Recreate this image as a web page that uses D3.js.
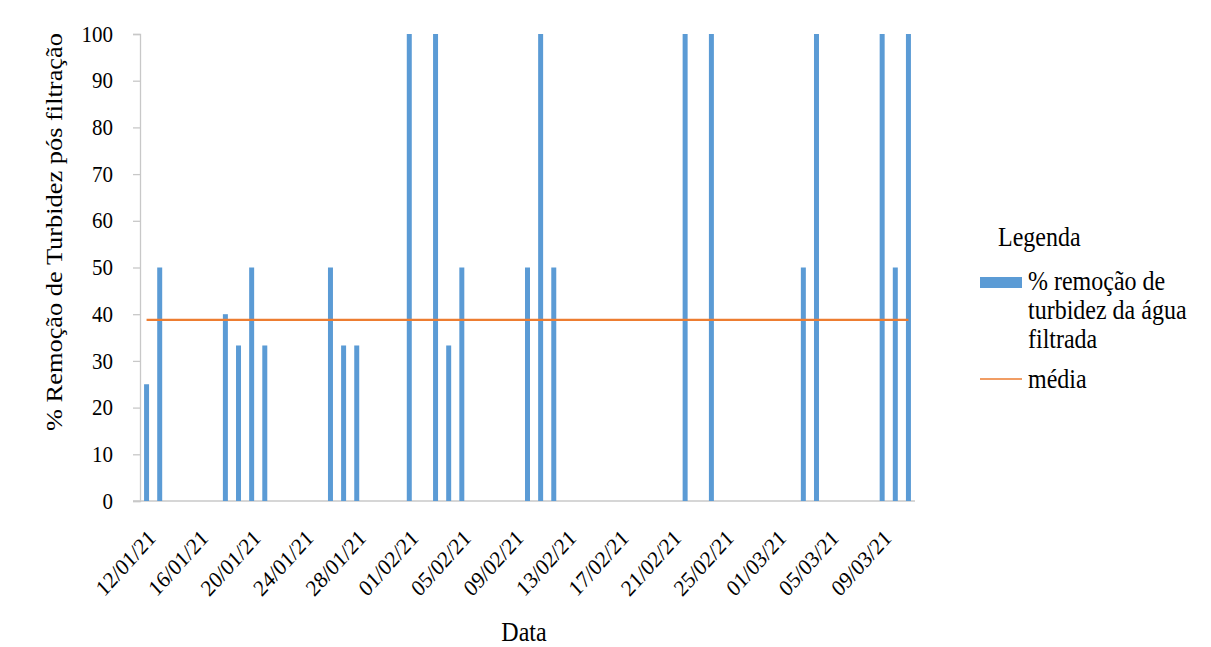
<!DOCTYPE html>
<html>
<head>
<meta charset="utf-8">
<script src="https://cdn.jsdelivr.net/npm/d3@7"></script>
<style>
  body { margin: 0; background: #ffffff; }
  text { font-family: "Liberation Serif", "Times New Roman", serif; fill: #000; }
</style>
</head>
<body>
<div id="chart"></div>
<script>
// dias com medição e % de remoção
const dias = ["12/01/21", "13/01/21", "18/01/21", "19/01/21", "20/01/21", "21/01/21",
  "26/01/21", "27/01/21", "28/01/21", "01/02/21", "03/02/21", "04/02/21", "05/02/21",
  "10/02/21", "11/02/21", "12/02/21", "22/02/21", "24/02/21", "03/03/21", "04/03/21",
  "09/03/21", "10/03/21", "11/03/21"];
const remocao = [25, 50, 40, 33.3, 50, 33.3,
  50, 33.3, 33.3, 100, 100, 33.3, 50,
  50, 100, 50, 100, 100, 50, 100,
  100, 50, 100];
const media = 38.8;
const primeiroDia = "12/01/21";
const ultimoDia = "11/03/21";
const tickLabels = ["12/01/21", "16/01/21", "20/01/21", "24/01/21", "28/01/21", "01/02/21",
  "05/02/21", "09/02/21", "13/02/21", "17/02/21", "21/02/21", "25/02/21", "01/03/21",
  "05/03/21", "09/03/21"];
const yTicks = [0, 10, 20, 30, 40, 50, 60, 70, 80, 90, 100];

let width = 1211;
let height = 647;
let plotLeft = 140, plotRight = 915, plotTop = 34, plotBottom = 501;
let stretch = 1.1; // o texto do original é um pouco alongado na vertical

let parse = d3.timeParse("%d/%m/%y");
let fmt = d3.timeFormat("%d/%m/%y");

let todosDias = d3.timeDay.range(parse(primeiroDia), d3.timeDay.offset(parse(ultimoDia), 1)).map(fmt);

let svg = d3.select("#chart").append("svg")
  .attr("width", width)
  .attr("height", height);

let x = d3.scaleBand()
  .domain(todosDias)
  .range([plotLeft, plotRight])
  .paddingInner(0.62)
  .paddingOuter(0.31);

let y = d3.scaleLinear()
  .domain([0, 100])
  .range([plotBottom, plotTop]);

function addText(parent, px, py, rot, size, anchor, txt) {
  return parent.append("text")
    .attr("transform", "translate(" + px + "," + py + ") scale(1," + stretch + ") rotate(" + rot + ")")
    .attr("text-anchor", anchor)
    .attr("font-size", size)
    .text(txt);
}

// eixo y
let yAxis = svg.append("g")
  .attr("transform", "translate(" + plotLeft + ",0)")
  .call(d3.axisLeft(y).tickValues(yTicks).tickSize(7).tickFormat(""));

yAxis.select(".domain").attr("stroke", "#c8c8c8").attr("stroke-width", 1.3);
yAxis.selectAll(".tick line").attr("stroke", "#c8c8c8").attr("stroke-width", 1.3);

yTicks.forEach(function(t) {
  addText(svg, 113, y(t), 0, 21, "end", t).attr("dy", "0.33em");
});

// eixo x
svg.append("line")
  .attr("x1", plotLeft - 7)
  .attr("x2", plotRight)
  .attr("y1", plotBottom)
  .attr("y2", plotBottom)
  .attr("stroke", "#c8c8c8")
  .attr("stroke-width", 1.3);

tickLabels.forEach(function(d) {
  addText(svg, x(d) + x.bandwidth() / 2, 528, -45, 21, "end", d).attr("dy", "0.7em");
});

// barras
svg.append("g")
  .selectAll("rect")
  .data(dias)
  .join("rect")
  .attr("x", function(d) { return x(d); })
  .attr("width", x.bandwidth())
  .attr("y", function(d, i) { return y(remocao[i]); })
  .attr("height", function(d, i) { return plotBottom - y(remocao[i]); })
  .attr("fill", "#5b9bd5");

// linha da média
let linha = d3.line()
  .x(function(d) { return x(d) + x.bandwidth() / 2; })
  .y(function() { return y(media); });

svg.append("path")
  .attr("d", linha([primeiroDia, ultimoDia]))
  .attr("stroke", "#ed7d31")
  .attr("stroke-width", 2.2)
  .attr("fill", "none");

// títulos
addText(svg, 62, 232, -90, 24, "middle", "% Remoção de Turbidez pós filtração");
addText(svg, 524, 641, 0, 24, "middle", "Data");

// legenda
let legend = svg.append("g");

addText(legend, 998, 246, 0, 24, "start", "Legenda");

legend.append("rect")
  .attr("x", 980)
  .attr("y", 277)
  .attr("width", 42)
  .attr("height", 11)
  .attr("fill", "#5b9bd5");

let serieTexto = ["% remoção de", "turbidez da água", "filtrada"];
serieTexto.forEach(function(t, i) {
  addText(legend, 1028, 290 + i * 29, 0, 24, "start", t);
});

legend.append("line")
  .attr("x1", 980)
  .attr("x2", 1022)
  .attr("y1", 379)
  .attr("y2", 379)
  .attr("stroke", "#ed7d31")
  .attr("stroke-width", 1.5);

addText(legend, 1028, 388, 0, 24, "start", "média");
</script>
</body>
</html>
